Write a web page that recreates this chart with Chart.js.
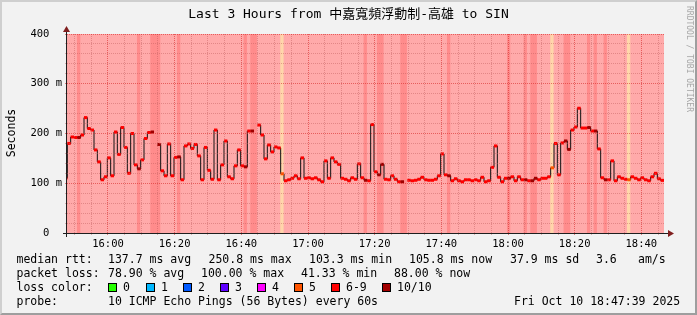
<!DOCTYPE html>
<html>
<head>
<meta charset="utf-8">
<script src="https://cdn.jsdelivr.net/npm/chart.js@4.4.1/dist/chart.umd.min.js"></script>
<style>
html,body{margin:0;padding:0;background:#f2f2f2;}
#wrap{position:relative;width:697px;height:315px;overflow:hidden;background:#f2f2f2;font-family:"DejaVu Sans Mono",monospace;color:#000;}
#frame{position:absolute;left:0;top:0;width:693px;height:311px;border-top:2px solid #cfcfcf;border-left:2px solid #cfcfcf;border-right:2px solid #9e9e9e;border-bottom:2px solid #9e9e9e;pointer-events:none;}
canvas{position:absolute;left:0;top:0;}
.t{position:absolute;white-space:pre;font-size:11.5px;line-height:14px;}
#title{position:absolute;left:0;top:6px;width:697px;text-align:center;font-family:"DejaVu Sans Mono","Noto Sans CJK TC",monospace;font-size:13px;line-height:16px;white-space:pre;}
#ylab{position:absolute;left:-39px;top:126px;width:100px;text-align:center;font-size:11.5px;line-height:14px;transform:rotate(-90deg);}
#wm{position:absolute;left:629px;top:54px;width:120px;text-align:center;font-size:8px;line-height:10px;color:#a8a8a8;transform:rotate(90deg);white-space:pre;}
.box{position:absolute;width:7px;height:7px;border:1px solid #000;}
</style>
</head>
<body>
<div id="wrap">
<canvas id="c" width="697" height="315"></canvas>
<div id="title"></div>
<div id="ylab"></div>
<div id="wm"></div>
<div id="legend"></div>
<div id="frame"></div>
</div>
<script>
// ---------- data ----------
const TITLE = 'Last 3 Hours from 中嘉寬頻浮動制-高雄 to SIN';
const Y_TITLE = 'Seconds';
const WATERMARK = 'RRDTOOL / TOBI OETIKER';

// first sample time (minutes of day, 15:47:18), one sample every minute
const START_MIN = 947.3;
const X_MIN = 947.7, X_MAX = 1126.8;

// median rtt per minute (ms)
const MEDIAN_MS = [
  110,180,193,192,192,197,232,210,207,167,
  143,107,113,151,115,203,158,212,172,120,
  200,137,129,147,190,202,203,null,178,125,
  115,179,115,152,153,107,175,179,170,178,
  155,107,172,126,108,207,107,137,185,113,
  109,135,167,135,133,205,205,null,217,197,
  149,177,163,173,171,119,105,107,110,115,
  109,151,110,111,109,111,107,103,145,110,
  151,143,138,110,108,105,111,108,139,111,
  106,105,218,123,117,138,108,107,115,108,
  103,103,null,106,105,106,108,112,107,106,
  106,108,115,159,117,115,105,109,105,103,
  107,107,105,107,105,112,103,105,132,175,
  112,103,110,110,113,105,113,107,107,105,
  105,110,107,110,110,113,131,180,117,181,
  185,168,207,213,250.8,211,211,212,205,205,
  169,111,107,107,145,105,113,110,108,107,
  113,110,107,111,107,105,113,120,109,105.8
];
// loss class per minute (8 = 6-9 lost, 10 = 10/10, 5 = 5 lost)
const LOSS = [
  8,8,8,8,10,8,8,8,8,8,
  8,8,8,8,8,8,8,8,8,8,
  8,8,10,8,8,8,10,10,10,8,
  8,8,8,8,10,8,8,8,8,8,
  8,8,8,8,8,8,8,8,8,8,
  8,8,8,8,10,8,10,10,8,8,
  8,8,8,8,8,5,8,8,8,8,
  8,8,8,8,8,8,8,8,8,8,
  8,8,8,8,8,8,8,8,8,8,
  10,8,8,8,10,10,8,8,8,8,
  8,10,10,8,8,8,8,8,8,8,
  8,8,8,8,8,10,8,8,8,8,
  8,8,8,8,8,8,8,8,8,8,
  8,8,8,10,8,8,8,8,10,8,
  10,10,8,8,8,8,5,8,8,8,
  10,10,8,8,8,8,8,10,8,10,
  8,8,10,8,8,8,8,8,8,5,
  8,8,8,8,8,8,8,8,8,8
];

const Y_TICKS = [0,20,40,60,80,100,120,140,160,180,200,220,240,260,280,300,320,340,360,380,400];
const Y_TICK_LABELS = {0:'0  ',100:'100 m',200:'200 m',300:'300 m',400:'400  '};
const X_GRID = [950,955,960,965,970,975,980,985,990,995,1000,1005,1010,1015,1020,1025,1030,1035,1040,1045,1050,1055,1060,1065,1070,1075,1080,1085,1090,1095,1100,1105,1110,1115,1120,1125];
const X_TICK_LABELS = {960:'16:00',980:'16:20',1000:'16:40',1020:'17:00',1040:'17:20',1060:'17:40',1080:'18:00',1100:'18:20',1120:'18:40'};

const LEGEND_ROWS = [
  [['median rtt:',16.5],['137.7 ms avg',108],['250.8 ms max',208.5],['103.3 ms min',309],['105.8 ms now',409],['37.9 ms sd',510],['3.6',596],['am/s',638]],
  [['packet loss:',16.5],['78.90 % avg',108],['100.00 % max',201],['41.33 % min',301],['88.00 % now',394]],
  [['loss color:',16.5]],
  [['probe:',16.5],['10 ICMP Echo Pings (56 Bytes) every 60s',108],['Fri Oct 10 18:47:39 2025',514]]
];
const LOSS_LEGEND = ['0','1','2','3','4','5','6-9','10/10'];
const LOSS_LEGEND_COLORS = ['#26ff00','#00b8ff','#0059ff','#5e00ff','#ff00ff','#ff5500','#ff0000','#a10000'];
const LOSS_LEGEND_X = [108,146,183,220,257,294,331,382];

// ---------- styles ----------
const LINE_COLOR = {5:'#ff5500', 8:'#ff0000', 10:'#a10000'};
const BAND_COLOR = {5:'#ffd6aa', 8:'#ffaaaa', 10:'#ff8c8c'};
const GRID = 'rgba(190,90,90,0.45)';
const MGRID = 'rgba(215,40,40,0.6)';

// ---------- text ----------
document.getElementById('title').textContent = TITLE;
document.getElementById('ylab').textContent = Y_TITLE;
document.getElementById('wm').textContent = WATERMARK;
const ROW_Y = [259, 273, 287, 301];
const lg = document.getElementById('legend');
LEGEND_ROWS.forEach((row, r) => {
  row.forEach(([txt, x]) => {
    const s = document.createElement('span');
    s.className = 't'; s.textContent = txt;
    s.style.left = x + 'px'; s.style.top = (ROW_Y[r] - 7) + 'px';
    lg.appendChild(s);
  });
});
LOSS_LEGEND.forEach((lab, i) => {
  const b = document.createElement('span');
  b.className = 'box'; b.style.background = LOSS_LEGEND_COLORS[i];
  b.style.left = LOSS_LEGEND_X[i] + 'px'; b.style.top = (ROW_Y[2] - 4.5) + 'px';
  lg.appendChild(b);
  const s = document.createElement('span');
  s.className = 't'; s.textContent = lab;
  s.style.left = (LOSS_LEGEND_X[i] + 15) + 'px'; s.style.top = (ROW_Y[2] - 7) + 'px';
  lg.appendChild(s);
});

// ---------- chart ----------
const TIMES = MEDIAN_MS.map((_, i) => START_MIN + i);

const axesPlugin = {
  id: 'rrdAxes',
  afterDraw(chart) {
    const {ctx, chartArea: a} = chart;
    const xl = a.left - 0.5, yb = a.bottom + 0.5;
    ctx.save();
    ctx.strokeStyle = '#1f1f1f'; ctx.lineWidth = 1;
    ctx.beginPath();
    ctx.moveTo(xl, a.bottom + 4); ctx.lineTo(xl, a.top - 3);
    ctx.moveTo(a.left - 4, yb); ctx.lineTo(a.right + 4, yb);
    ctx.stroke();
    ctx.fillStyle = '#801f1f';
    ctx.beginPath();
    ctx.moveTo(xl, a.top - 8); ctx.lineTo(xl - 3.5, a.top - 2); ctx.lineTo(xl + 3.5, a.top - 2); ctx.closePath();
    ctx.fill();
    ctx.beginPath();
    ctx.moveTo(a.right + 10, yb); ctx.lineTo(a.right + 4, yb - 3.5); ctx.lineTo(a.right + 4, yb + 3.5); ctx.closePath();
    ctx.fill();
    ctx.restore();
  }
};

new Chart(document.getElementById('c'), {
  data: {
    datasets: [
      {
        type: 'line',
        label: 'median rtt',
        data: TIMES.map((t, i) => ({x: t, y: MEDIAN_MS[i]})),
        stepped: 'middle',
        borderColor: '#111',
        borderWidth: 1,
        spanGaps: false,
        pointStyle: 'line',
        pointRadius: 1.7,
        pointHoverRadius: 1.7,
        pointBorderWidth: 3,
        pointBorderColor: LOSS.map(l => LINE_COLOR[l]),
        order: 0
      },
      {
        type: 'bar',
        label: 'loss',
        data: TIMES.map(t => ({x: t, y: 400})),
        backgroundColor: LOSS.map(l => BAND_COLOR[l]),
        borderWidth: 0,
        barPercentage: 1,
        categoryPercentage: 1,
        inflateAmount: 0.4,
        clip: 0,
        order: 1
      }
    ]
  },
  options: {
    responsive: false,
    devicePixelRatio: 1,
    animation: false,
    events: [],
    layout: {padding: {left: 0, right: 33, top: 34, bottom: 62}},
    plugins: {legend: {display: false}, tooltip: {enabled: false}, title: {display: false}},
    scales: {
      x: {
        type: 'linear', min: X_MIN, max: X_MAX, offset: false,
        afterBuildTicks: s => { s.ticks = X_GRID.map(v => ({value: v})); },
        afterFit: s => { s.height = 20; },
        ticks: {autoSkip: false, maxRotation: 0, padding: 3, color: '#000',
          font: {family: 'DejaVu Sans Mono', size: 10.5},
          callback: v => X_TICK_LABELS[v] || ''},
        grid: {z: 1, offset: false, lineWidth: 1, tickLength: 2, tickWidth: 1,
          color: c => (c.tick && X_TICK_LABELS[c.tick.value]) ? MGRID : GRID,
          tickColor: c => (c.tick && X_TICK_LABELS[c.tick.value]) ? MGRID : GRID},
        border: {display: false, dash: [1, 1]}
      },
      y: {
        type: 'linear', min: 0, max: 400,
        afterBuildTicks: s => { s.ticks = Y_TICKS.map(v => ({value: v})); },
        afterFit: s => { s.width = 67; },
        ticks: {autoSkip: false, padding: 3, color: '#000',
          font: {family: 'DejaVu Sans Mono', size: 10.5},
          callback: v => Y_TICK_LABELS[v] || ''},
        grid: {z: 1, lineWidth: 1, tickLength: 2, tickWidth: 1,
          color: c => (c.tick && c.tick.value === 0) ? 'rgba(0,0,0,0)' : ((c.tick && c.tick.value % 100 === 0) ? MGRID : GRID),
          tickColor: c => (c.tick && c.tick.value % 100 === 0) ? MGRID : GRID},
        border: {display: false, dash: [1, 1]}
      }
    }
  },
  plugins: [axesPlugin]
});
</script>
</body>
</html>
